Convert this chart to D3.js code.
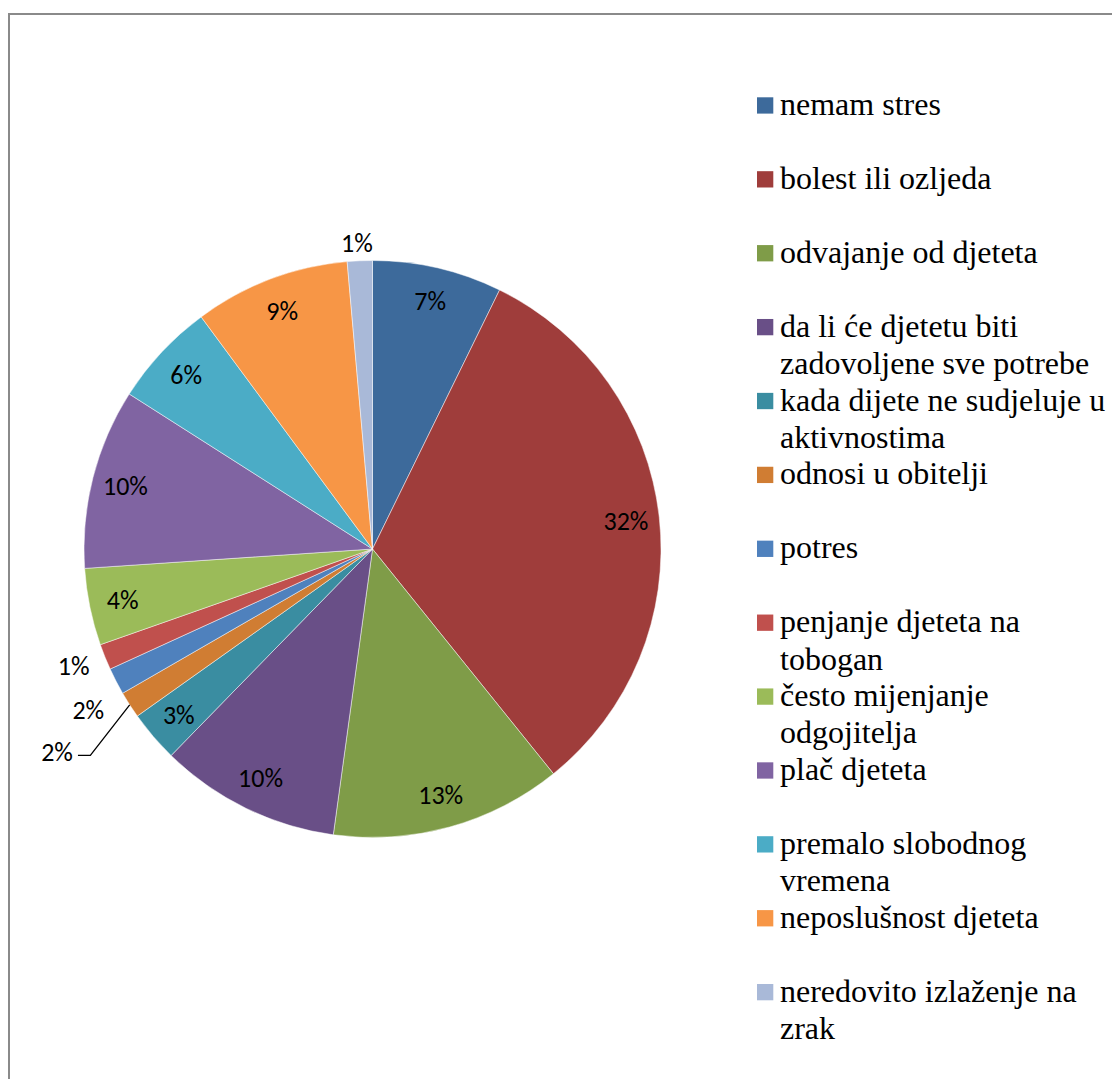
<!DOCTYPE html>
<html>
<head>
<meta charset="utf-8">
<script src="https://cdn.jsdelivr.net/npm/d3@7/dist/d3.min.js"></script>
</head>
<body style="margin:0">
<svg id="chart" width="1112" height="1079" style="display:block"></svg>
<script>
// ---- data ----
const categories = [
  "nemam stres",
  "bolest ili ozljeda",
  "odvajanje od djeteta",
  "da li će djetetu biti zadovoljene sve potrebe",
  "kada dijete ne sudjeluje u aktivnostima",
  "odnosi u obitelji",
  "potres",
  "penjanje djeteta na tobogan",
  "često mijenjanje odgojitelja",
  "plač djeteta",
  "premalo slobodnog vremena",
  "neposlušnost djeteta",
  "neredovito izlaženje na zrak"
];
const values = [7.26, 31.95, 12.96, 10.13, 2.87, 1.5, 1.5, 1.45, 4.31, 10.1, 5.85, 8.72, 1.4];
const colors = ["#3D6A9B", "#9F3D3B", "#7F9C48", "#694F87", "#3A8DA1", "#D07D33",
                "#4F81BD", "#C0504D", "#9BBB59", "#8064A2", "#4BACC6", "#F79646", "#A9B9D8"];

// ---- layout ----
const svg = d3.select("#chart");
const W = 1112, H = 1079;
const cx = 372.5, cy = 549, R = 288.5;
const LABEL_FONT = "Carlito";
const LEGEND_FONT = "Liberation Serif";

const data = categories.map((c, i) => ({ name: c, v: values[i], color: colors[i] }));

// ---- legend (drawn first, one <text> per line) ----
const legY = d3.scaleLinear().domain([0, categories.length - 1]).range([115, 1001.7]);
const legFS = 32, lineH = 37.3, maxW = 330;
const leg = svg.append("g");
const measure = leg.append("text").attr("font-family", LEGEND_FONT).attr("font-size", legFS)
  .attr("x", -9999).attr("y", -9999);
function wrap(str) {
  const words = str.split(" ");
  const lines = [];
  let cur = [];
  words.forEach(w => {
    const trial = cur.concat([w]).join(" ");
    measure.text(trial);
    if (measure.node().getComputedTextLength() > maxW && cur.length) {
      lines.push(cur.join(" "));
      cur = [w];
    } else {
      cur.push(w);
    }
  });
  if (cur.length) lines.push(cur.join(" "));
  return lines;
}
data.forEach((d, i) => {
  const by = legY(i);
  leg.append("rect").attr("x", 757).attr("y", by - 17.7)
    .attr("width", 16.3).attr("height", 16.3).attr("fill", d.color);
  wrap(d.name).forEach((ln, k) => {
    leg.append("text").attr("x", 780).attr("y", by + k * lineH)
      .attr("font-family", LEGEND_FONT).attr("font-size", legFS).attr("fill", "#000")
      .text(ln);
  });
});
measure.remove();

// frame
svg.append("rect")
  .attr("x", 9).attr("y", 14)
  .attr("width", W + 20).attr("height", H + 20)
  .attr("fill", "none").attr("stroke", "#8a8a8a").attr("stroke-width", 2);

// ---- pie ----
const pie = d3.pie().sort(null).value(d => d.v);
const arcs = pie(data);
const arc = d3.arc().innerRadius(0).outerRadius(R);
const g = svg.append("g").attr("transform", `translate(${cx},${cy})`);

g.selectAll("path.slice").data(arcs).enter().append("path")
  .attr("class", "slice")
  .attr("d", arc)
  .attr("fill", d => d.data.color)
  .attr("stroke", "#ffffff").attr("stroke-width", 0.8).attr("stroke-opacity", 0.6);

// label placement: inside labels at a fixed radius, a few outside
const inR = 255;
const outside = { // index -> {r, da (deg offset), leader}
  5: { leader: true },
  6: { r: 326.5, da: -2.2 },
  7: { r: 321, da: 0.6 },
  12: { r: 307, da: -0.4 }
};
const pt = (ang, r) => [Math.sin(ang) * r, -Math.cos(ang) * r];
const LFS = 26;

function addLabel(x, y, txt, anchor) {
  g.append("text").attr("x", x).attr("y", y)
    .attr("text-anchor", anchor).attr("dy", "0.35em")
    .attr("font-family", LABEL_FONT).attr("font-size", LFS).attr("fill", "#000")
    .text(txt);
}

arcs.forEach((d, i) => {
  const mid = (d.startAngle + d.endAngle) / 2;
  const txt = Math.round(d.data.v) + "%";
  const o = outside[i];
  if (!o) {
    const [x, y] = pt(mid, inR);
    addLabel(x, y, txt, "middle");
  } else if (!o.leader) {
    const [x, y] = pt(mid + o.da * Math.PI / 180, o.r);
    addLabel(x, y, txt, "middle");
  } else {
    const p0 = pt(mid, R);
    const p1 = pt(mid - 3.5 * Math.PI / 180, 349.6);
    const p2 = [p1[0] - 12.4, p1[1]];
    g.append("path")
      .attr("d", d3.line()([p0, p1, p2]))
      .attr("fill", "none").attr("stroke", "#000").attr("stroke-width", 1.3);
    addLabel(p2[0] - 5, p2[1] - 4, txt, "end");
  }
});
</script>
</body>
</html>
